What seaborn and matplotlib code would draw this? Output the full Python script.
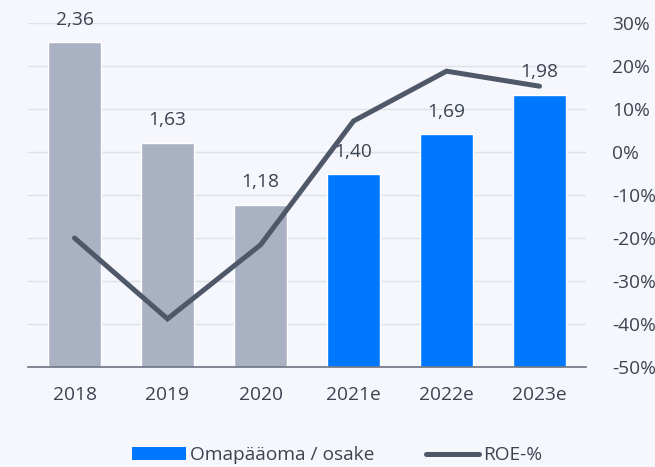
import matplotlib
matplotlib.use("Agg")
import matplotlib.pyplot as plt
import seaborn as sns
import pandas as pd
from matplotlib.patches import Patch
from matplotlib.lines import Line2D

years = ["2018", "2019", "2020", "2021e", "2022e", "2023e"]
equity_per_share = [2.36, 1.63, 1.18, 1.40, 1.69, 1.98]
roe = [-20.0, -38.8, -21.6, 7.2, 18.8, 15.3]
kind = ["actual", "actual", "actual", "estimate", "estimate", "estimate"]
right_ticks = [-50, -40, -30, -20, -10, 0, 10, 20, 30]

bg = "#F5F7FC"
gray_bar = "#AAB1C3"
blue_bar = "#0077FF"
line_col = "#4F5869"
text_col = "#3C4350"
grid_col = "#DDE1E8"
fs = 13.8

sns.set_theme(style="white")
plt.rcParams['font.family'] = ['Open Sans', 'DejaVu Sans']

df = pd.DataFrame({"year": years, "eps": equity_per_share, "roe": roe, "kind": kind})

fig = plt.figure(figsize=(6.55, 4.67), dpi=100, facecolor=bg)
ax = fig.add_axes([28/655, 1 - 367/467, (586-28)/655, (367-23)/467])
ax.set_facecolor(bg)
ax2 = ax.twinx()

ax2.set_ylim(-50, 30)
ax2.set_yticks(right_ticks)
ax2.set_yticklabels([f"{t}%" for t in right_ticks])

ax.set_ylim(0, 2.5)
# gridlines (aligned to right-axis ticks) drawn behind bars and labels
for t in right_ticks[1:]:
    ax.axhline((t + 50) / 80 * 2.5, color=grid_col, lw=1, zorder=0)

sns.barplot(data=df, x="year", y="eps", hue="kind",
            palette={"actual": gray_bar, "estimate": blue_bar},
            dodge=False, width=0.58, ax=ax, legend=False, zorder=2, saturation=1)
ax.set_ylim(0, 2.5)
ax.set_xlim(-0.5, 5.5)
ax.set_yticks([])
ax.set_xlabel("")
ax.set_ylabel("")
for i, v in enumerate(equity_per_share):
    ax.text(i, v + 0.128, f"{v:.2f}".replace(".", ","), ha="center", va="baseline",
            fontsize=fs, color=text_col, zorder=5)

ax.set_zorder(1)
ax2.set_zorder(2)
ax2.patch.set_visible(False)

sns.lineplot(x=list(range(len(years))), y=roe, ax=ax2, color=line_col,
             linewidth=3.6, solid_capstyle="round", solid_joinstyle="miter", zorder=4)
ax2.set_xlim(-0.5, 5.5)

for a in (ax, ax2):
    for s in ["top", "left", "right"]:
        a.spines[s].set_visible(False)
ax.spines["bottom"].set_visible(False)
ax2.spines["bottom"].set_color("#6B7280")
ax2.spines["bottom"].set_linewidth(1.2)
ax2.spines["bottom"].set_zorder(6)

ax.tick_params(axis="x", length=0, pad=14, labelsize=fs, labelcolor=text_col)
ax2.tick_params(axis="y", length=0, pad=19, labelsize=fs, labelcolor=text_col)
for lbl in ax2.get_yticklabels():
    lbl.set_horizontalalignment("left")

handles = [Patch(facecolor=blue_bar, edgecolor="none"),
           Line2D([0], [0], color=line_col, lw=3.6, solid_capstyle="round")]
fig.legend(handles, ["Omapääoma / osake", "ROE-%"], loc="center",
           bbox_to_anchor=(0.515, 0.025), ncol=2, frameon=False, fontsize=fs,
           handlelength=2.8, handleheight=0.62, handletextpad=0.2, columnspacing=2.7,
           labelcolor=text_col, borderaxespad=0, borderpad=0)

fig.savefig("out.png", dpi=100, facecolor=bg)
